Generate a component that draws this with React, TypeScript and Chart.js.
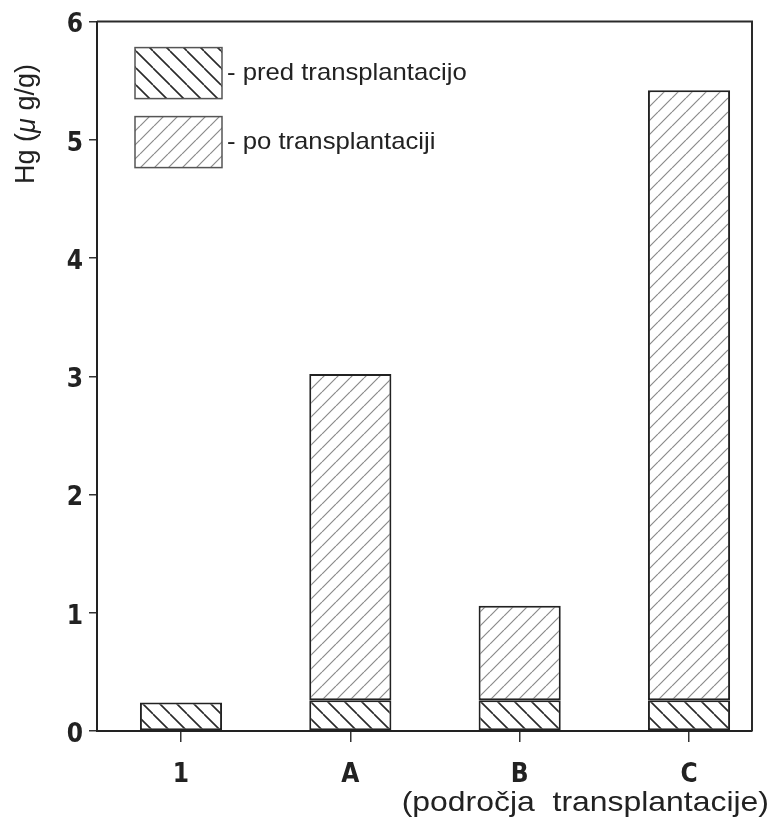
import React, { useEffect, useRef } from 'react';
import { Chart, registerables } from 'chart.js';

Chart.register(...registerables);

// ---- data ----
const categories = ['1', 'A', 'B', 'C'];
const positions = [1, 2, 3, 4];
const predValues = [0.24, 0.26, 0.26, 0.26];
const poValues: (number | null)[] = [null, 2.76, 0.8, 5.16];
const yTicks = [0, 1, 2, 3, 4, 5, 6];
const seriesLabels = ['- pred transplantacijo', '- po transplantaciji'];
const yTitleParts = ['Hg (', 'μ', ' g/g)'];
const xTitle = '(področja  transplantacije)';

const TICK_FONT = "'Liberation Sans Narrow', 'DejaVu Sans Condensed', sans-serif";
const TEXT_FONT = "'Liberation Sans', Arial, sans-serif";

function makePattern(dir: 'back' | 'fwd', s: number, color: string, lw: number) {
  const c = document.createElement('canvas');
  c.width = s;
  c.height = s;
  const ctx = c.getContext('2d')!;
  ctx.fillStyle = '#ffffff';
  ctx.fillRect(0, 0, s, s);
  ctx.strokeStyle = color;
  ctx.lineWidth = lw;
  ctx.beginPath();
  for (const o of [-s, 0, s]) {
    if (dir === 'back') {
      ctx.moveTo(o, 0);
      ctx.lineTo(o + s, s);
    } else {
      ctx.moveTo(o, s);
      ctx.lineTo(o + s, 0);
    }
  }
  ctx.stroke();
  return ctx.createPattern(c, 'repeat')!;
}

export default function App() {
  const ref = useRef<HTMLCanvasElement | null>(null);

  useEffect(() => {
    document.body.style.margin = '0';
    const canvas = ref.current!;
    const predPattern = makePattern('back', 17, '#2a2a2a', 1.6);
    const poPattern = makePattern('fwd', 14, '#8a8a8a', 1.2);

    const framePlugin = {
      id: 'frame',
      afterDraw(chart: any) {
        const { ctx, chartArea } = chart;
        const { left, right, top, bottom } = chartArea;
        ctx.save();
        // top and right frame lines
        ctx.strokeStyle = '#2a2a2a';
        ctx.lineWidth = 2;
        ctx.beginPath();
        ctx.moveTo(left, top);
        ctx.lineTo(right, top);
        ctx.lineTo(right, bottom);
        ctx.stroke();

        // legend
        const pats = [predPattern, poPattern];
        const boxX = left + 38;
        const boxW = 87;
        const boxH = 51;
        const boxYs = [top + 26, top + 95];
        seriesLabels.forEach((lab, i) => {
          const y = boxYs[i];
          ctx.fillStyle = pats[i];
          ctx.fillRect(boxX, y, boxW, boxH);
          ctx.strokeStyle = '#555';
          ctx.lineWidth = 1.5;
          ctx.strokeRect(boxX, y, boxW, boxH);
          ctx.fillStyle = '#222';
          ctx.font = `24px ${TEXT_FONT}`;
          ctx.textAlign = 'left';
          ctx.textBaseline = 'middle';
          ctx.save();
          ctx.translate(boxX + boxW + 5, y + boxH / 2);
          ctx.scale(1.07, 1);
          ctx.fillText(lab, 0, 0);
          ctx.restore();
        });

        // y title (rotated)
        ctx.save();
        ctx.translate(27, 124);
        ctx.rotate(-Math.PI / 2);
        ctx.fillStyle = '#222';
        ctx.textBaseline = 'middle';
        ctx.textAlign = 'left';
        const fonts = [`27px ${TEXT_FONT}`, `italic 27px ${TEXT_FONT}`, `27px ${TEXT_FONT}`];
        let total = 0;
        const widths = yTitleParts.map((p, i) => {
          ctx.font = fonts[i];
          const w = ctx.measureText(p).width;
          total += w;
          return w;
        });
        let x = -total / 2;
        yTitleParts.forEach((p, i) => {
          ctx.font = fonts[i];
          ctx.fillText(p, x, 0);
          x += widths[i];
        });
        ctx.restore();

        // x title
        ctx.save();
        ctx.fillStyle = '#222';
        ctx.font = `28px ${TEXT_FONT}`;
        ctx.textAlign = 'right';
        ctx.textBaseline = 'alphabetic';
        ctx.translate(769, 811);
        ctx.scale(1.14, 1);
        ctx.fillText(xTitle, 0, 0);
        ctx.restore();

        ctx.restore();
      },
    };

    const chart = new Chart(canvas, {
      type: 'bar',
      data: {
        datasets: [
          {
            label: seriesLabels[0],
            data: positions.map((x, i) => ({ x, y: predValues[i] })),
            backgroundColor: predPattern,
            borderColor: '#222',
            borderWidth: 2,
            borderSkipped: false,
            stack: 's',
          },
          {
            label: seriesLabels[1],
            data: positions.map((x, i) => ({ x, y: poValues[i] })),
            backgroundColor: poPattern,
            borderColor: '#222',
            borderWidth: 2,
            borderSkipped: false,
            stack: 's',
          },
        ] as any,
      },
      options: {
        responsive: false,
        animation: false,
        layout: { padding: { top: 19, right: 18, left: 0, bottom: 0 } },
        plugins: { legend: { display: false }, tooltip: { enabled: false } },
        datasets: { bar: { barPercentage: 0.485, categoryPercentage: 1 } } as any,
        scales: {
          x: {
            type: 'linear',
            min: 0.504,
            max: 4.372,
            offset: false,
            stacked: true,
            afterBuildTicks: (s: any) => {
              s.ticks = positions.map((v) => ({ value: v }));
            },
            afterFit: (s: any) => {
              s.height = 89;
            },
            ticks: {
              callback: (v: any) => {
                const i = positions.indexOf(Number(v));
                return i >= 0 ? categories[i] : '';
              },
              font: { family: TICK_FONT, size: 26, weight: 'bold' },
              color: '#222',
              padding: 18,
              maxRotation: 0,
              autoSkip: false,
            },
            grid: {
              offset: false,
              drawOnChartArea: false,
              drawTicks: true,
              tickLength: 11,
              color: '#333',
              lineWidth: 1.5,
            },
            border: { color: '#222', width: 2 },
          },
          y: {
            min: 0,
            max: 6,
            stacked: true,
            afterBuildTicks: (s: any) => {
              s.ticks = yTicks.map((v) => ({ value: v }));
            },
            afterFit: (s: any) => {
              s.width = 97;
            },
            ticks: {
              font: { family: TICK_FONT, size: 26, weight: 'bold' },
              color: '#222',
              padding: 6,
              labelOffset: 4,
            },
            grid: {
              drawOnChartArea: false,
              drawTicks: true,
              tickLength: 8,
              color: '#333',
              lineWidth: 1.5,
            },
            border: { color: '#222', width: 2 },
          },
        },
      } as any,
      plugins: [framePlugin],
    });

    return () => chart.destroy();
  }, []);

  return (
    <div style={{ width: 770, height: 820, background: '#fff' }}>
      <canvas ref={ref} width={770} height={820} style={{ display: 'block' }} />
    </div>
  );
}
